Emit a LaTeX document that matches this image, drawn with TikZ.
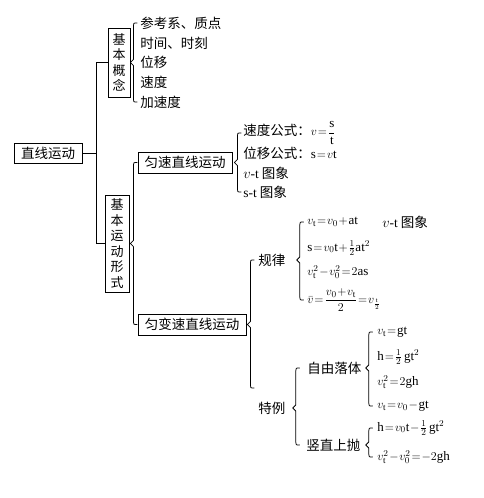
\documentclass[tikz,border=0pt]{standalone}
\usepackage{fontspec}
\usepackage{amsmath}
\setmainfont{Liberation Serif}
\newfontfamily\zhfont{Noto Sans CJK SC}
\usetikzlibrary{calc}

\newcommand{\jinmu}{\medmuskip=1mu\relax\thickmuskip=1.5mu\relax}
\tikzset{every picture/.style={line width=0.75pt}}
\tikzset{
  kuang/.style={draw, inner sep=0pt, font=\zhfont\fontsize{13.5}{15}\selectfont},
  shu/.style={kuang, align=center, font=\zhfont\fontsize{13}{15.5}\selectfont},
  zi/.style={anchor=west, inner sep=0pt, font=\zhfont\fontsize{13.5}{15}\selectfont\jinmu},
  gs/.style={anchor=west, inner sep=0pt, font=\rmfamily\fontsize{13}{15}\selectfont\jinmu},
  kuo/.style={draw, line join=round}
}

% left brace: #1 parent, #2 top end, #3 bottom end, #4 gap from parent
\newcommand{\kuohao}[4]{%
  \coordinate (k) at ($(#1.east)+(#4,0)$);
  \draw[kuo] ($(k |- #2)+(4,0)$) .. controls (k |- #2) .. ($(k |- #2)+(0,3)$)
    -- ($(k |- #1.east)+(0,-3)$) -- ($(k |- #1.east)+(-3,0)$) -- ($(k |- #1.east)+(0,3)$)
    -- ($(k |- #3)+(0,-3)$) .. controls (k |- #3) .. ($(k |- #3)+(4,0)$);
}
\newcommand{\xw}[1]{{\rmfamily #1}}

\begin{document}
\begin{tikzpicture}[x=1pt,y=1pt,yscale=-1,xscale=1]
\useasboundingbox (0,0) rectangle (483,498);

% boxes
\node[kuang, minimum width=68, minimum height=20] (zxyd) at (48,153) {直线运动};
\node[shu, minimum width=22, minimum height=69] (jbgn) at (119,62.5) {基\\本\\概\\念};
\node[shu, minimum width=24, minimum height=97] (jbys) at (117,243.5) {基\\本\\运\\动\\形\\式};
\node[kuang, minimum width=94, minimum height=21] (ysu) at (185,162.5) {匀速直线运动};
\node[kuang, minimum width=108, minimum height=21] (ybs) at (192,324.5) {匀变速直线运动};

% basic concepts
\node[zi] (gn1) at (140,23) {参考系、质点};
\node[zi] (gn2) at (140,43) {时间、时刻};
\node[zi] (gn3) at (140,62) {位移};
\node[zi] (gn4) at (140,82) {速度};
\node[zi] (gn5) at (140,102) {加速度};

% uniform motion
\node[zi] (ys1) at (243,133) {速度公式：{\fontsize{13}{15}\selectfont$v=\dfrac{\mathrm s}{\mathrm t}$}};
\node[zi] (ys2) at (243,153) {位移公式：{\fontsize{13}{15}\selectfont$\mathrm s=v\mathrm t$}};
\node[zi] (ys3) at (243,173) {$v$\xw{-t} 图象};
\node[zi] (ys4) at (243,192) {\xw{s-t} 图象};

% uniformly accelerated motion
\node[zi] (gl) at (258,260) {规律};
\node[zi] (tl) at (258,408) {特例};
\node[gs] (gl1) at (307,222) {$v_{\mathrm t}=v_0+\mathrm{at}$};
\node[zi] (vt) at (382,222) {$v$\xw{-t} 图象};
\node[gs] (gl2) at (307,248) {$\mathrm s=v_0\mathrm t+\frac12\mathrm{at}^2$};
\node[gs] (gl3) at (307,272) {$v_{\mathrm t}^2-v_0^2=2\mathrm{as}$};
\node[gs] (gl4) at (307,300) {$\bar v=\dfrac{v_0+v_{\mathrm t}}{2}=v_{\frac{\mathrm t}{2}}$};

% special cases
\node[zi] (zy) at (307,368) {自由落体};
\node[gs] (zy1) at (377,332) {$v_{\mathrm t}=\mathrm{gt}$};
\node[gs] (zy2) at (377,357) {$\mathrm h=\frac12\,\mathrm{gt}^2$};
\node[gs] (zy3) at (377,382) {$v_{\mathrm t}^2=2\mathrm{gh}$};
\node[gs] (zy4) at (377,406) {$v_{\mathrm t}=v_0-\mathrm{gt}$};
\node[zi] (sz) at (306,445) {竖直上抛};
\node[gs] (sz1) at (377,428) {$\mathrm h=v_0\mathrm t-\frac12\,\mathrm{gt}^2$};
\node[gs] (sz2) at (377,457) {$v_{\mathrm t}^2-v_0^2=-2\mathrm{gh}$};

% connectors
\draw (zxyd.east) -- ++(14,0) coordinate (zhu);
\draw (jbgn.west) -| (zhu) |- (jbys.west);
\coordinate (tlk) at ($(tl.west)+(0,-20)$);
\kuohao{jbgn}{gn1.west}{gn5.west}{3}
\kuohao{jbys}{ysu.west}{ybs.west}{4}
\kuohao{ysu}{ys1.west}{ys4.west}{5}
\kuohao{ybs}{gl.west}{tlk}{4}
\kuohao{gl}{gl1.west}{gl4.west}{14}
\kuohao{tl}{zy.west}{sz.west}{10}
\kuohao{zy}{zy1.west}{zy4.west}{7}
\kuohao{sz}{sz1.west}{sz2.west}{8}

\end{tikzpicture}
\end{document}
